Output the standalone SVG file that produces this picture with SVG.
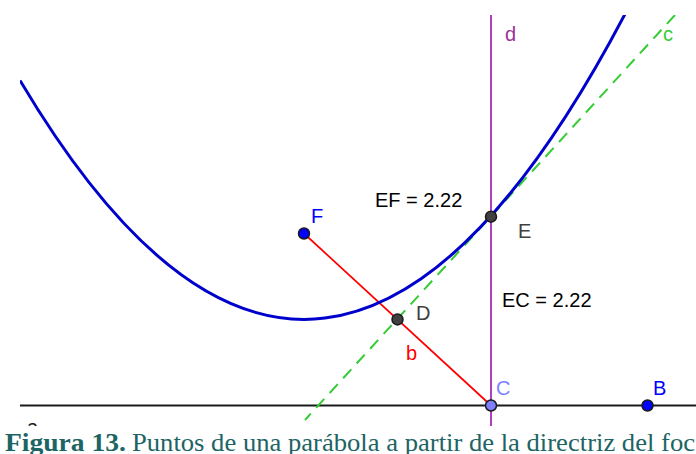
<svg xmlns="http://www.w3.org/2000/svg" width="696" height="454" viewBox="0 0 696 454">
<style>
.lbl{font-family:"Liberation Sans",Arial,sans-serif;font-size:20px}
.pt{stroke:#1a1a1a;stroke-width:1.5}
</style>
<defs>
<clipPath id="plot"><rect x="20" y="15" width="676" height="411"/></clipPath>
</defs>
<rect width="696" height="454" fill="#ffffff"/>
<g clip-path="url(#plot)">
<g id="connectors" fill="none">
<line id="a" x1="20" y1="405.5" x2="696" y2="405.5" stroke="#1a1a1a" stroke-width="2"/>
<line id="d" x1="491" y1="15" x2="491" y2="427" stroke="#b040c0" stroke-width="2"/>
<line id="c" x1="675" y1="15" x2="305" y2="420" stroke="#33cc33" stroke-width="2" stroke-dasharray="12,8"/>
<line id="b" x1="304" y1="233.5" x2="491" y2="405.5" stroke="#ff0000" stroke-width="1.7"/>
<path id="parabola" d="M20,80.4 Q325,593.7 630,4.5" stroke="#0000cc" stroke-width="3"/>
</g>
<text class="lbl" x="27" y="434" fill="#1a1a1a">a</text>
</g>
<text class="lbl" x="505" y="41" fill="#993399">d</text>
<text class="lbl" x="663" y="41" fill="#33cc33">c</text>
<text class="lbl" x="406" y="360" fill="#ff0000">b</text>
<g id="F"><circle class="pt" cx="304" cy="233.5" r="5.5" fill="#0000ff"/><text class="lbl" x="311" y="223" fill="#0000ff">F</text></g>
<g id="D"><circle class="pt" cx="397.5" cy="319.4" r="5.5" fill="#404040"/><text class="lbl" x="416" y="320" fill="#404040">D</text></g>
<g id="E"><circle class="pt" cx="491" cy="216.7" r="5.5" fill="#404040"/><text class="lbl" x="518" y="238" fill="#404040">E</text></g>
<g id="C"><circle class="pt" cx="491" cy="405.5" r="5.5" fill="#8080ff"/><text class="lbl" x="496" y="395" fill="#8080ff">C</text></g>
<g id="B"><circle class="pt" cx="647.5" cy="405.5" r="5.5" fill="#0000ff"/><text class="lbl" x="653" y="395" fill="#0000ff">B</text></g>
<text class="lbl" x="375" y="207" fill="#000000">EF = 2.22</text>
<text class="lbl" x="502" y="307" fill="#000000">EC = 2.22</text>
<text x="5" y="451" font-family="'Liberation Serif','Times New Roman',serif" font-size="26" fill="#1d6464"><tspan font-weight="bold" textLength="121" lengthAdjust="spacingAndGlyphs">Figura 13.</tspan><tspan x="132" textLength="563" lengthAdjust="spacingAndGlyphs">Puntos de una parábola a partir de la directriz del foc</tspan></text>
</svg>
